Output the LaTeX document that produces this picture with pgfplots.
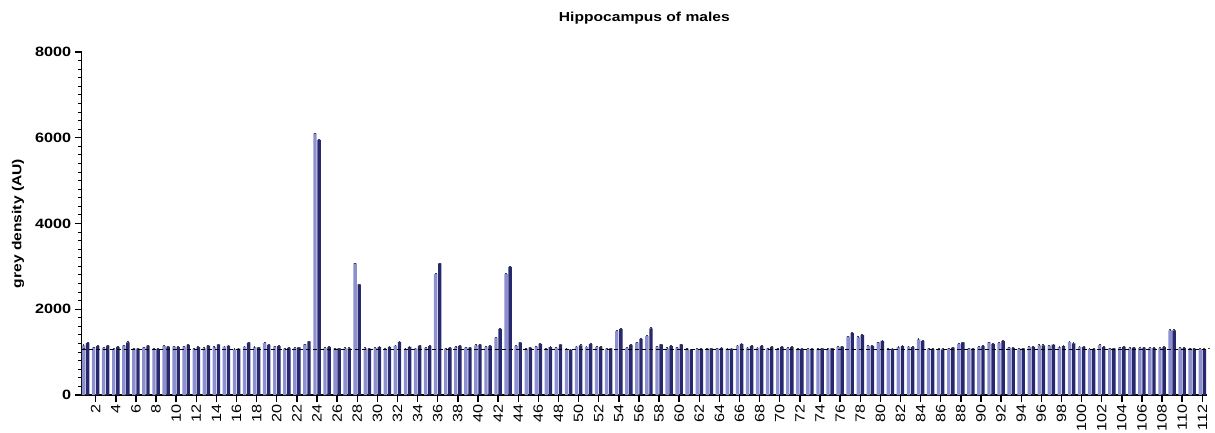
\documentclass[border=0pt]{standalone}
\usepackage{fontspec}
\setmainfont{Liberation Sans}[FakeStretch=1.2]
\usepackage{pgfplots}
\usepackage{pgfplotstable}
\pgfplotsset{compat=1.18}

\definecolor{lightbar}{HTML}{8C8FD0}
\definecolor{darkbar}{HTML}{28286E}

% region, first group, second group
\pgfplotstableread{
cat light dark
1 1160 1210
2 1110 1140
3 1100 1150
4 1075 1120
5 1150 1230
6 1080 1080
7 1110 1150
8 1075 1075
9 1140 1130
10 1130 1115
11 1130 1170
12 1080 1115
13 1090 1150
14 1115 1180
15 1130 1150
16 1065 1080
17 1130 1220
18 1115 1110
19 1210 1170
20 1130 1140
21 1080 1100
22 1095 1110
23 1180 1250
24 6100 5950
25 1100 1120
26 1080 1085
27 1090 1090
28 3070 2580
29 1090 1080
30 1095 1125
31 1075 1125
32 1150 1240
33 1080 1125
34 1085 1150
35 1100 1140
36 2820 3070
37 1080 1100
38 1115 1145
39 1105 1105
40 1160 1175
41 1120 1145
42 1330 1540
43 2820 2990
44 1145 1220
45 1080 1105
46 1130 1195
47 1080 1115
48 1105 1180
49 1080 1060
50 1130 1160
51 1120 1190
52 1120 1120
53 1080 1085
54 1490 1540
55 1100 1170
56 1220 1310
57 1375 1555
58 1130 1180
59 1090 1140
60 1105 1180
61 1080 1055
62 1075 1075
63 1080 1085
64 1085 1100
65 1080 1080
66 1150 1195
67 1105 1145
68 1100 1145
69 1085 1120
70 1080 1120
71 1095 1115
72 1075 1075
73 1075 1075
74 1075 1085
75 1075 1085
76 1120 1130
77 1360 1445
78 1345 1400
79 1140 1145
80 1225 1265
81 1075 1075
82 1115 1140
83 1130 1115
84 1300 1260
85 1080 1075
86 1075 1065
87 1080 1105
88 1195 1225
89 1080 1080
90 1120 1140
91 1225 1195
92 1210 1255
93 1105 1095
94 1075 1085
95 1120 1120
96 1160 1160
97 1150 1175
98 1115 1140
99 1240 1205
100 1120 1115
101 1075 1075
102 1165 1115
103 1085 1085
104 1105 1120
105 1090 1105
106 1095 1105
107 1095 1095
108 1095 1115
109 1510 1510
110 1100 1100
111 1085 1080
112 1075 1065
}\hippo

\begin{document}
\begin{tikzpicture}
\begin{axis}[
  at={(0,0)}, anchor=south west,
  scale only axis, width=1125.3pt, height=343pt,
  xmin=0.61, xmax=112.47, ymin=0, ymax=8000,
  axis lines*=left,
  axis line style={black, line width=1.4pt},
  ybar=0.7pt, bar width=3.4pt,
  xtick={2,4,...,112},
  ytick={0,2000,...,8000},
  minor y tick num=9,
  tick align=outside,
  major tick length=7pt, minor tick length=4pt,
  every tick/.style={black, line width=1.4pt},
  minor tick style={line width=1pt},
  scaled y ticks=false,
  /pgf/number format/1000 sep={},
  /pgf/number format/assume math mode=true,
  yticklabel style={font=\bfseries\fontsize{13.5}{15}\selectfont},
  xticklabel style={font=\fontsize{13.5}{15}\selectfont, rotate=90, anchor=east, inner sep=2pt},
  ylabel={grey density (AU)},
  ylabel style={at={(axis description cs:-0.0566,0.5)}, anchor=center, font=\bfseries\fontsize{13}{15}\selectfont},
  error bars/y dir=plus, error bars/y fixed=15,
  error bars/error bar style={black!75, line width=0.4pt},
  error bars/error mark options={black!75, rotate=90, mark size=0.9pt, line width=0.4pt},
  clip=false,
]
\addplot[fill=lightbar, draw=none] table[x=cat, y=light] {\hippo};
\addplot[fill=darkbar, draw=none] table[x=cat, y=dark] {\hippo};
\addplot[sharp plot, black, line width=0.8pt, dash pattern=on 4pt off 3pt, forget plot] coordinates {(0.61,1070) (112.47,1070)};
\node[font=\bfseries\fontsize{13}{15}\selectfont] at (rel axis cs:0.5,1) [yshift=34pt] {Hippocampus of males};
\end{axis}
\pgfresetboundingbox
\path[use as bounding box] (-81.7pt,-37pt) rectangle (1133.3pt,395pt);
\end{tikzpicture}
\end{document}
